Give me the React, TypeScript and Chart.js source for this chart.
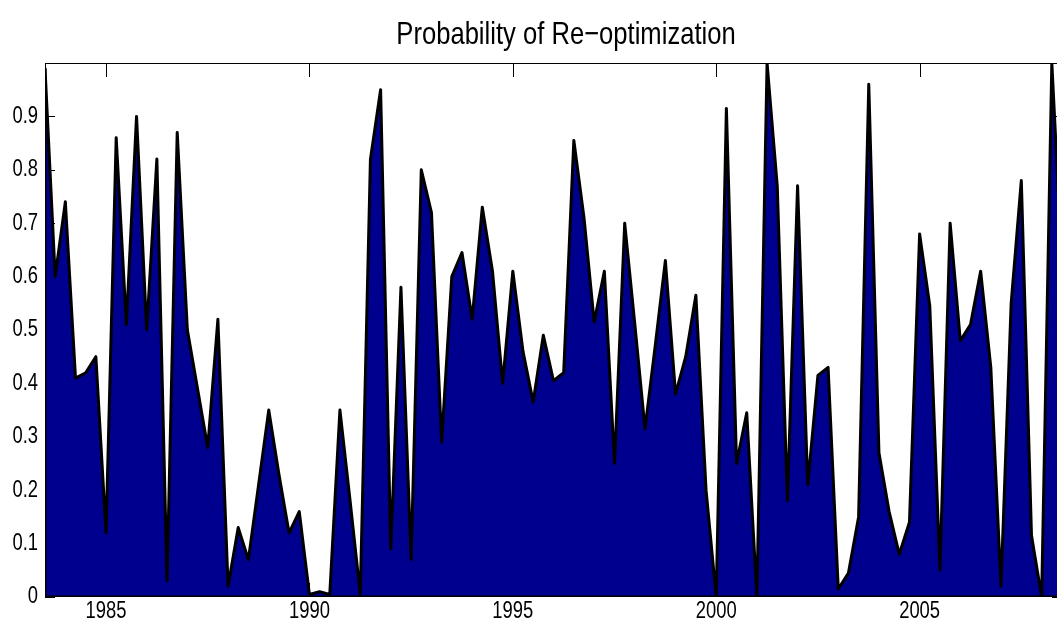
import React, { useEffect, useRef } from "react";
import { Chart, registerables } from "chart.js";

Chart.register(...registerables);

// ---- data ----
const startYear = 1983.5;
const quarterStep = 0.25;
const reoptProbability = [
  0.99, 0.6, 0.74, 0.41, 0.42, 0.45, 0.12, 0.86, 0.51, 0.9,
  0.5, 0.82, 0.03, 0.87, 0.5, 0.39, 0.28, 0.52, 0.02, 0.13,
  0.07, 0.21, 0.35, 0.23, 0.12, 0.16, 0.005, 0.01, 0.005, 0.35,
  0.18, 0.005, 0.82, 0.95, 0.09, 0.58, 0.07, 0.8, 0.72, 0.29,
  0.6, 0.645, 0.52, 0.73, 0.61, 0.4, 0.61, 0.46, 0.365, 0.49,
  0.405, 0.42, 0.855, 0.71, 0.515, 0.61, 0.25, 0.7, 0.51, 0.315,
  0.47, 0.63, 0.38, 0.45, 0.565, 0.2, 0.0, 0.915, 0.25, 0.345,
  0.0, 1.0, 0.77, 0.18, 0.77, 0.21, 0.415, 0.43, 0.015, 0.045,
  0.15, 0.96, 0.27, 0.16, 0.08, 0.14, 0.68, 0.545, 0.05, 0.7,
  0.48, 0.51, 0.61, 0.43, 0.02, 0.55, 0.78, 0.115, 0.0, 1.0,
  0.62,
];
const xTickYears = [1985, 1990, 1995, 2000, 2005];
const xTickLabels = ["1985", "1990", "1995", "2000", "2005"];
const yTickValues = [0, 0.1, 0.2, 0.3, 0.4, 0.5, 0.6, 0.7, 0.8, 0.9];
const yTickLabels = ["0", "0.1", "0.2", "0.3", "0.4", "0.5", "0.6", "0.7", "0.8", "0.9"];
const xMin = 1983.5;
const xMax = 2008.5;
const yMin = 0;
const yMax = 1;
const chartTitle = "Probability of Re\u2212optimization";

// ---- styles ----
const TEXT_SX = 0.8; // the reference's lettering is horizontally condensed
const FONT_FAMILY = '"Liberation Sans", Arial, Helvetica, sans-serif';
const FILL_COLOR = "#00008F";
const TICK_FONT_SIZE = 23;
const TITLE_FONT_SIZE = 32;
const TITLE_X = 566;
const TITLE_BASELINE = 44;

function condensedText(ctx: any, text: string, x: number, y: number, align: string, baseline: string, size: number) {
  ctx.save();
  ctx.translate(x, y);
  ctx.scale(TEXT_SX, 1);
  ctx.font = `${size}px ${FONT_FAMILY}`;
  ctx.fillStyle = "#000";
  ctx.textAlign = align;
  ctx.textBaseline = baseline;
  ctx.fillText(text, 0, 0);
  ctx.restore();
}

export default function App() {
  const canvasRef = useRef<HTMLCanvasElement | null>(null);

  useEffect(() => {
    document.documentElement.style.overflow = "hidden";
    document.body.style.margin = "0";
    document.body.style.overflow = "hidden";

    const canvas = canvasRef.current;
    if (!canvas) return;

    const points = reoptProbability.map((v, i) => ({ x: startYear + i * quarterStep, y: v }));

    const framePlugin = {
      id: "matlabFrame",
      beforeDatasetsDraw(chart: any) {
        const { ctx, chartArea } = chart;
        const { left, right, top, bottom } = chartArea;
        const xs = chart.scales.x;
        const ys = chart.scales.y;
        ctx.save();
        ctx.strokeStyle = "#000";
        ctx.lineWidth = 1;
        ctx.beginPath();
        xTickYears.forEach((yr) => {
          const px = Math.round(xs.getPixelForValue(yr)) + 0.5;
          ctx.moveTo(px, top);
          ctx.lineTo(px, top + 14);
          ctx.moveTo(px, bottom);
          ctx.lineTo(px, bottom - 14);
        });
        yTickValues.forEach((v) => {
          const py = Math.round(ys.getPixelForValue(v)) + 0.5;
          ctx.moveTo(left, py);
          ctx.lineTo(left + 10, py);
          ctx.moveTo(right, py);
          ctx.lineTo(right - 10, py);
        });
        ctx.stroke();
        ctx.strokeRect(Math.round(left) + 0.5, Math.round(top) + 0.5, Math.round(right - left) - 1, Math.round(bottom - top) - 1);
        ctx.restore();
      },
      afterDatasetsDraw(chart: any) {
        const { ctx, chartArea } = chart;
        const { left, right, top, bottom } = chartArea;
        const xs = chart.scales.x;
        const ys = chart.scales.y;
        const first = points[0];
        const last = points[points.length - 1];
        ctx.save();
        ctx.beginPath();
        ctx.rect(left, top, right - left, bottom - top);
        ctx.clip();
        ctx.strokeStyle = "#000";
        ctx.lineWidth = 3;
        ctx.lineJoin = "round";
        ctx.beginPath();
        ctx.moveTo(xs.getPixelForValue(first.x), ys.getPixelForValue(first.y));
        ctx.lineTo(xs.getPixelForValue(first.x), ys.getPixelForValue(0));
        ctx.lineTo(xs.getPixelForValue(last.x), ys.getPixelForValue(0));
        ctx.lineTo(xs.getPixelForValue(last.x), ys.getPixelForValue(last.y));
        ctx.stroke();
        ctx.restore();
      },
      afterDraw(chart: any) {
        const { ctx, chartArea } = chart;
        const xs = chart.scales.x;
        const ys = chart.scales.y;
        // tick labels, placed through the chart's own scales
        yTickValues.forEach((v, i) => {
          condensedText(ctx, yTickLabels[i], chartArea.left - 7, ys.getPixelForValue(v), "right", "middle", TICK_FONT_SIZE);
        });
        xTickYears.forEach((yr, i) => {
          condensedText(ctx, xTickLabels[i], xs.getPixelForValue(yr), chartArea.bottom + 15, "center", "middle", TICK_FONT_SIZE);
        });
        condensedText(ctx, chartTitle, TITLE_X, TITLE_BASELINE, "center", "alphabetic", TITLE_FONT_SIZE);
      },
    };

    const chart = new Chart(canvas, {
      type: "line",
      data: {
        datasets: [
          {
            data: points,
            fill: "origin",
            backgroundColor: FILL_COLOR,
            borderColor: "#000",
            borderWidth: 3,
            borderJoinStyle: "round",
            pointRadius: 0,
            pointHoverRadius: 0,
            tension: 0,
            clip: 0,
          } as any,
        ],
      },
      options: {
        animation: false,
        responsive: true,
        maintainAspectRatio: false,
        devicePixelRatio: 1,
        layout: { padding: { top: 63, left: 0, right: 1, bottom: 0 } },
        plugins: {
          legend: { display: false },
          tooltip: { enabled: false },
          title: { display: false },
        },
        events: [],
        scales: {
          x: {
            type: "linear",
            min: xMin,
            max: xMax,
            afterBuildTicks: (s: any) => {
              s.ticks = xTickYears.map((v) => ({ value: v }));
            },
            afterFit: (s: any) => {
              s.height = 42;
            },
            grid: { display: false, drawTicks: false },
            border: { display: false },
            ticks: { display: false },
          },
          y: {
            type: "linear",
            min: yMin,
            max: yMax,
            afterBuildTicks: (s: any) => {
              s.ticks = yTickValues.map((v) => ({ value: v }));
            },
            afterFit: (s: any) => {
              s.width = 45;
            },
            grid: { display: false, drawTicks: false },
            border: { display: false },
            ticks: { display: false },
          },
        },
      } as any,
      plugins: [framePlugin],
    });

    return () => {
      chart.destroy();
    };
  }, []);

  return (
    <div style={{ position: "absolute", left: 0, top: 0, width: 1063, height: 639, background: "#fff" }}>
      <canvas ref={canvasRef} />
    </div>
  );
}
